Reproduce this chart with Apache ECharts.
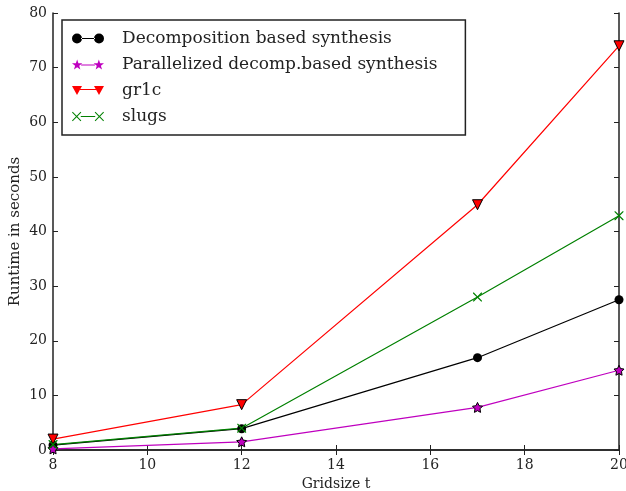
<!DOCTYPE html>
<html><head><meta charset="utf-8">
<script src="https://cdn.jsdelivr.net/npm/echarts@6/dist/echarts.min.js"></script>
<style>html,body{margin:0;padding:0;background:#fff}#c{width:626px;height:491px}</style>
</head><body><div id="c"></div>
<script>
const gridSizes = [8, 12, 17, 20];
const decomp = [0.9, 3.9, 16.9, 27.5];
const parallel = [0.2, 1.5, 7.8, 14.6];
const gr1c = [2.0, 8.3, 44.9, 74.0];
const slugs = [1.0, 4.0, 28.0, 42.9];
const seriesNames = ['Decomposition based synthesis', 'Parallelized decomp.based synthesis', 'gr1c', 'slugs'];

const FONT = 'DejaVu Serif';
const STAR = 'path://M0,-10 L2.94,-4.05 L9.51,-3.09 L4.76,1.55 L5.88,8.09 L0,5 L-5.88,8.09 L-4.76,1.55 L-9.51,-3.09 L-2.94,-4.05 Z';
const XMARK = 'path://M0,0 L1,0 L5,4 L9,0 L10,0 L10,1 L6,5 L10,9 L10,10 L9,10 L5,6 L1,10 L0,10 L0,9 L4,5 L0,1 Z';

function starPath(cx, cy, R, r){
  let s = '';
  for (let i = 0; i < 10; i++) {
    const rad = (i % 2 === 0) ? R : r;
    const a = -Math.PI/2 + i*Math.PI/5;
    s += (i === 0 ? 'M' : 'L') + (cx + rad*Math.cos(a)).toFixed(2) + ',' + (cy + rad*Math.sin(a)).toFixed(2) + ' ';
  }
  return s + 'Z ';
}
function xPath(cx, cy, h){
  const w = 0.7;
  return `M${cx-h},${cy-h+w} L${cx-h+w},${cy-h} L${cx},${cy-w} L${cx+h-w},${cy-h} L${cx+h},${cy-h+w} L${cx+w},${cy} L${cx+h},${cy+h-w} L${cx+h-w},${cy+h} L${cx},${cy+w} L${cx-h+w},${cy+h} L${cx-h},${cy+h-w} L${cx-w},${cy} Z `;
}
const seg = (x0,x1,y) => `M${x0},${y-0.6} L${x1},${y-0.6} L${x1},${y+0.6} L${x0},${y+0.6} Z `;
const ICONS = [
  'path://M0,5 A5,5 0 1,0 10,5 A5,5 0 1,0 0,5 Z M22,5 A5,5 0 1,0 32,5 A5,5 0 1,0 22,5 Z ' + seg(9,23,5),
  'path://' + starPath(5,5.5,5.5,2.2) + starPath(27,5.5,5.5,2.2) + seg(9,23,5.5),
  'path://M0,0 L10,0 L5,9 Z M22,0 L32,0 L27,9 Z ' + seg(8,24,3.5),
  'path://' + xPath(5,5,4.5) + xPath(27,5,4.5) + seg(9,23,5)
];

function pairs(arr){ return gridSizes.map((g,i)=>[g, arr[i]]); }

const chart = echarts.init(document.getElementById('c'), null, {renderer:'canvas'});
const axisLine = {show:true, lineStyle:{color:'#222', width:1.5}};
const tick = {show:true, inside:true, length:5, lineStyle:{color:'#222', width:1}};
chart.setOption({
  animation:false,
  backgroundColor:'#fff',
  grid:{left:53, right:7, top:13, bottom:41, containLabel:false, outerBoundsMode:'none'},
  xAxis:[
    {type:'value', min:8, max:20, interval:2, position:'bottom',
     name:'Gridsize t', nameLocation:'middle', nameGap:27,
     nameTextStyle:{fontFamily:FONT, fontSize:14, color:'#222'},
     axisLine, axisTick:tick, splitLine:{show:false},
     axisLabel:{fontFamily:FONT, fontSize:14, color:'#222', margin:8}},
    {type:'value', min:8, max:20, interval:2, position:'top',
     axisLine, axisTick:tick, splitLine:{show:false}, axisLabel:{show:false}}
  ],
  yAxis:[
    {type:'value', min:0, max:80, interval:10, position:'left',
     name:'Runtime in seconds', nameLocation:'middle', nameGap:30, nameRotate:90, nameMoveOverlap:false,
     nameTextStyle:{fontFamily:FONT, fontSize:15, color:'#222'},
     axisLine, axisTick:tick, splitLine:{show:false},
     axisLabel:{fontFamily:FONT, fontSize:14, color:'#222', margin:6}},
    {type:'value', min:0, max:80, interval:10, position:'right',
     axisLine, axisTick:tick, splitLine:{show:false}, axisLabel:{show:false}}
  ],
  legend:{
    left:62, top:20, orient:'vertical', itemGap:9, itemWidth:32, itemHeight:10,
    padding:[10,28,10,10], borderColor:'#222', borderWidth:1.5, backgroundColor:'#fff',
    formatter: name => '{t|' + name + '}',
    textStyle:{fontFamily:FONT, fontSize:17, color:'#222',
      rich:{t:{fontFamily:FONT, fontSize:17, color:'#222', padding:[0,0,0,13], lineHeight:18}}},
    data:seriesNames.map((n,i)=>({name:n, icon:ICONS[i], itemStyle:{borderWidth:0}}))
  },
  series:[
    {name:seriesNames[0], type:'line', data:pairs(decomp), symbol:'circle', symbolSize:9,
     lineStyle:{color:'#000', width:1.2}, itemStyle:{color:'#000'}},
    {name:seriesNames[1], type:'line', data:pairs(parallel), symbol:STAR, symbolSize:10,
     lineStyle:{color:'#bf00bf', width:1.2}, itemStyle:{color:'#bf00bf', borderColor:'#000', borderWidth:1}},
    {name:seriesNames[2], type:'line', data:pairs(gr1c), symbol:'triangle', symbolRotate:180, symbolSize:10,
     lineStyle:{color:'#ff0000', width:1.2}, itemStyle:{color:'#ff0000', borderColor:'#000', borderWidth:1}},
    {name:seriesNames[3], type:'line', data:pairs(slugs), symbol:XMARK, symbolSize:9,
     lineStyle:{color:'#008000', width:1.2}, itemStyle:{color:'#008000'}}
  ]
});
</script></body></html>
